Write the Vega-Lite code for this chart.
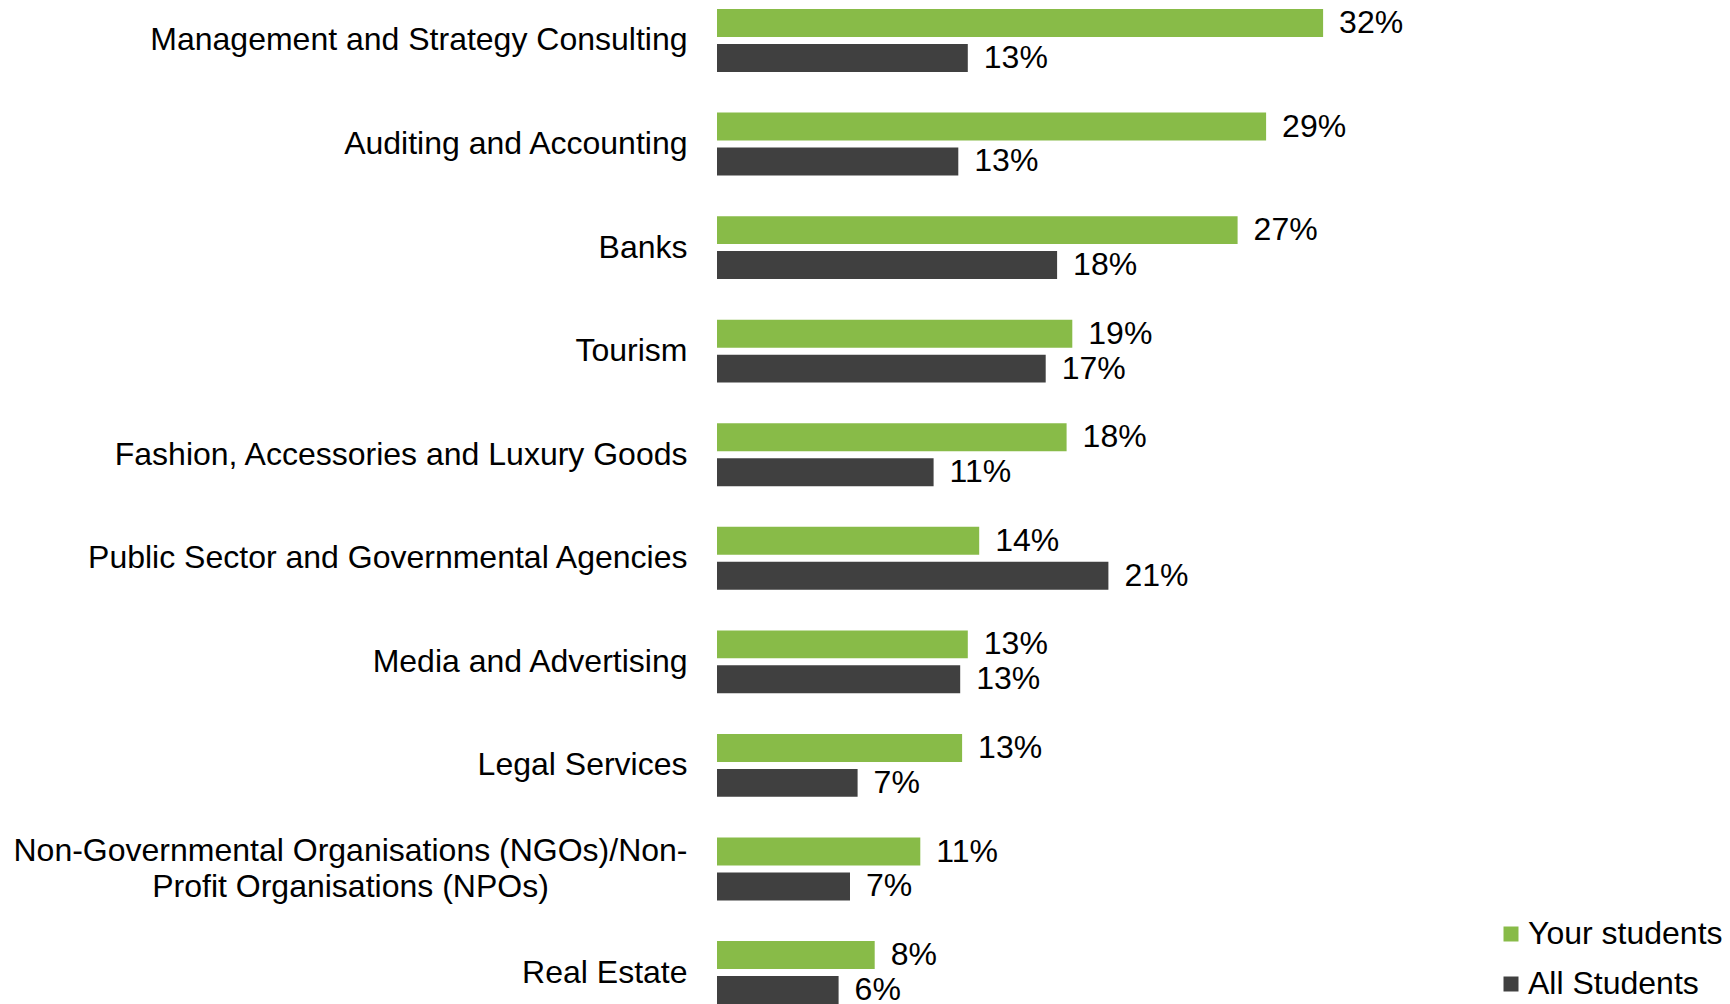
{
  "$schema": "https://vega.github.io/schema/vega-lite/v6.json",
  "autosize": {"type": "none"},
  "padding": {"left": 717, "top": 9, "right": 63, "bottom": 0},
  "width": 950,
  "height": 995,
  "background": "white",
  "config": {
    "view": {"stroke": null},
    "font": "Liberation Sans"
  },
  "data": {
    "values": [
      {"industry": "Management and Strategy Consulting", "series": "Your students", "value": 0.319},
      {"industry": "Management and Strategy Consulting", "series": "All Students", "value": 0.132},
      {"industry": "Auditing and Accounting", "series": "Your students", "value": 0.289},
      {"industry": "Auditing and Accounting", "series": "All Students", "value": 0.127},
      {"industry": "Banks", "series": "Your students", "value": 0.274},
      {"industry": "Banks", "series": "All Students", "value": 0.179},
      {"industry": "Tourism", "series": "Your students", "value": 0.187},
      {"industry": "Tourism", "series": "All Students", "value": 0.173},
      {"industry": "Fashion, Accessories and Luxury Goods", "series": "Your students", "value": 0.184},
      {"industry": "Fashion, Accessories and Luxury Goods", "series": "All Students", "value": 0.114},
      {"industry": "Public Sector and Governmental Agencies", "series": "Your students", "value": 0.138},
      {"industry": "Public Sector and Governmental Agencies", "series": "All Students", "value": 0.206},
      {"industry": "Media and Advertising", "series": "Your students", "value": 0.132},
      {"industry": "Media and Advertising", "series": "All Students", "value": 0.128},
      {"industry": "Legal Services", "series": "Your students", "value": 0.129},
      {"industry": "Legal Services", "series": "All Students", "value": 0.074},
      {"industry": "Non-Governmental Organisations (NGOs)/Non-Profit Organisations (NPOs)", "series": "Your students", "value": 0.107},
      {"industry": "Non-Governmental Organisations (NGOs)/Non-Profit Organisations (NPOs)", "series": "All Students", "value": 0.070},
      {"industry": "Real Estate", "series": "Your students", "value": 0.083},
      {"industry": "Real Estate", "series": "All Students", "value": 0.064}
    ]
  },
  "encoding": {
    "y": {
      "field": "industry",
      "type": "nominal",
      "sort": null,
      "scale": {"paddingInner": 0.3925, "paddingOuter": 0},
      "axis": {
        "title": null,
        "domain": false,
        "ticks": false,
        "labelFontSize": 32,
        "labelColor": "#000000",
        "labelLimit": 1000,
        "labelLineHeight": 36,
        "labelAlign": {"condition": {"test": "indexof(datum.value, 'Non-Governmental') == 0", "value": "center"}, "value": "right"},
        "labelPadding": {"condition": {"test": "indexof(datum.value, 'Non-Governmental') == 0", "value": 367}, "value": 30},
        "labelOffset": {"condition": {"test": "indexof(datum.value, 'Non-Governmental') == 0", "value": -18}, "value": 0},
        "labelExpr": "indexof(datum.value, 'Non-Governmental') == 0 ? ['Non-Governmental Organisations (NGOs)/Non-', 'Profit Organisations (NPOs)'] : datum.value"
      }
    },
    "yOffset": {
      "field": "series",
      "type": "nominal",
      "sort": ["Your students", "All Students"],
      "scale": {"paddingInner": 0.2, "paddingOuter": 0}
    },
    "x": {
      "field": "value",
      "type": "quantitative",
      "scale": {"domain": [0, 0.5], "nice": false, "zero": true},
      "axis": null
    }
  },
  "layer": [
    {
      "mark": {"type": "bar"},
      "encoding": {
        "color": {
          "field": "series",
          "type": "nominal",
          "sort": ["Your students", "All Students"],
          "scale": {"domain": ["Your students", "All Students"], "range": ["#88BB48", "#404040"]},
          "legend": {
            "title": null,
            "orient": "none",
            "legendX": 778,
            "legendY": 909,
            "padding": 0,
            "symbolType": "square",
            "symbolSize": 225,
            "symbolStrokeWidth": 0,
            "labelFontSize": 32,
            "labelColor": "#000000",
            "labelOffset": 1,
            "rowPadding": 18,
            "labelLimit": 400
          }
        }
      }
    },
    {
      "mark": {"type": "text", "align": "left", "baseline": "middle", "dx": 16, "fontSize": 32, "color": "#000000"},
      "encoding": {
        "text": {"field": "value", "type": "quantitative", "format": ".0%"}
      }
    }
  ]
}
